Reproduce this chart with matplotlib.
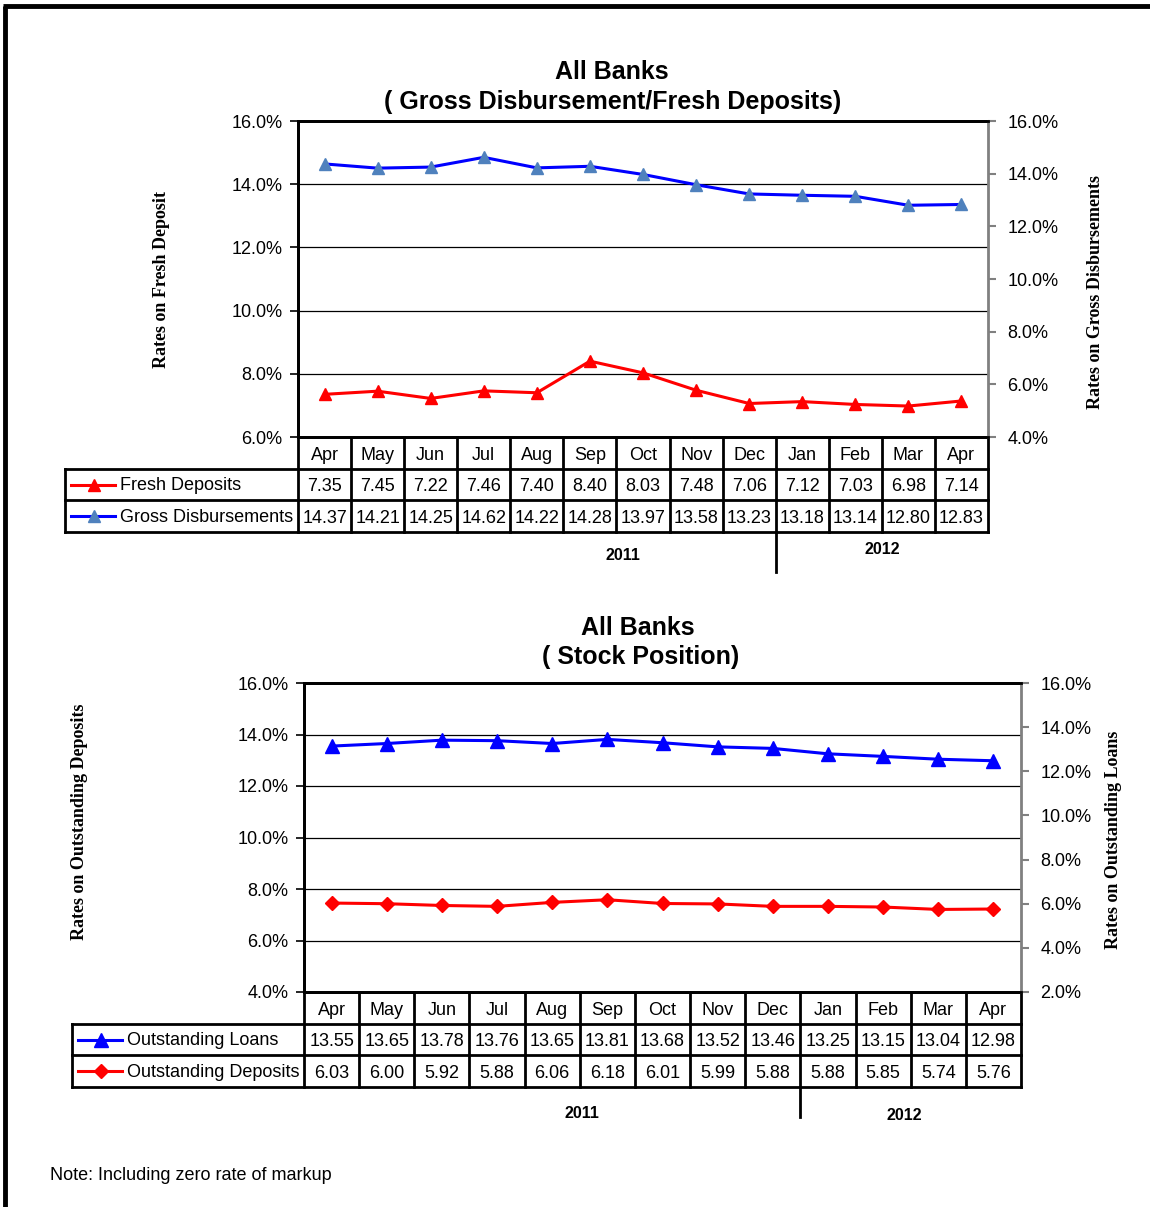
import matplotlib.pyplot as plt
from matplotlib.ticker import FuncFormatter

W, H = 1150, 1207

months = ["Apr", "May", "Jun", "Jul", "Aug", "Sep", "Oct", "Nov", "Dec", "Jan", "Feb", "Mar", "Apr"]
fresh_deposits = [7.35, 7.45, 7.22, 7.46, 7.40, 8.40, 8.03, 7.48, 7.06, 7.12, 7.03, 6.98, 7.14]
gross_disb = [14.37, 14.21, 14.25, 14.62, 14.22, 14.28, 13.97, 13.58, 13.23, 13.18, 13.14, 12.80, 12.83]
out_loans = [13.55, 13.65, 13.78, 13.76, 13.65, 13.81, 13.68, 13.52, 13.46, 13.25, 13.15, 13.04, 12.98]
out_deposits = [6.03, 6.00, 5.92, 5.88, 6.06, 6.18, 6.01, 5.99, 5.88, 5.88, 5.85, 5.74, 5.76]

plt.rcParams["font.family"] = ["Liberation Sans", "DejaVu Sans"]

fig = plt.figure(figsize=(W / 100, H / 100), dpi=100)
pct = FuncFormatter(lambda v, p: f"{v:.1f}%")
serif = ["Liberation Serif", "DejaVu Serif"]
FS = 13

# overlay in pixel coords for tables, frame and texts
ov = fig.add_axes([0, 0, 1, 1], zorder=-1)
ov.set_xlim(0, W)
ov.set_ylim(H, 0)
ov.axis("off")
ov.plot([3, W], [6, 6], color="black", lw=3.5, solid_capstyle="butt")
ov.plot([4.5, 4.5], [6, H], color="black", lw=3.5, solid_capstyle="butt")


def panel(x0, x1, y0, y1, left_s, right_s, llim, rlim, lticks, rticks, lc, rc):
    ax = fig.add_axes([x0 / W, 1 - y1 / H, (x1 - x0) / W, (y1 - y0) / H])
    ax2 = ax.twinx()
    x = list(range(len(months)))
    ax.plot(x, left_s[0], color=lc[0], lw=2.2, marker=lc[1], ms=lc[2], mfc=lc[3], mec=lc[3], zorder=5)
    ax2.plot(x, right_s[0], color=rc[0], lw=2.2, marker=rc[1], ms=rc[2], mfc=rc[3], mec=rc[3], zorder=5)
    ax.set_xlim(-0.5, len(months) - 0.5)
    ax.set_ylim(*llim)
    ax2.set_ylim(*rlim)
    ax.set_yticks(lticks)
    ax2.set_yticks(rticks)
    ax.yaxis.set_major_formatter(pct)
    ax2.yaxis.set_major_formatter(pct)
    ax.set_xticks([])
    for t in lticks[1:-1]:
        ax.axhline(t, color="black", lw=0.9, zorder=1)
    ax.tick_params(axis="y", direction="out", length=6, width=1.2, labelsize=FS, pad=5, colors="black")
    ax2.tick_params(axis="y", direction="out", length=6, width=1.5, color="#808080", labelsize=FS, pad=8,
                    labelcolor="black")
    for s in ["left", "top", "bottom"]:
        ax.spines[s].set_linewidth(2)
        ax2.spines[s].set_linewidth(2)
    ax.spines["right"].set_visible(False)
    ax2.spines["right"].set_color("#808080")
    ax2.spines["right"].set_linewidth(2)
    return ax, ax2


def table(x0, x1, y_top, row_h, lab_x0, rows, div_y, y2011, y2012):
    n = len(months)
    cw = (x1 - x0) / n
    y_h1 = y_top + row_h
    y_end = y_top + row_h * 3
    lw = 2
    # header box
    ov.plot([x0, x0], [y_top, y_end], color="black", lw=lw)
    ov.plot([x1, x1], [y_top, y_end], color="black", lw=lw)
    for i in range(1, n):
        ov.plot([x0 + i * cw] * 2, [y_top, y_end], color="black", lw=lw)
    ov.plot([lab_x0, x1], [y_h1, y_h1], color="black", lw=lw)
    ov.plot([lab_x0, x1], [y_h1 + row_h, y_h1 + row_h], color="black", lw=lw)
    ov.plot([lab_x0, x1], [y_end, y_end], color="black", lw=lw)
    ov.plot([lab_x0, lab_x0], [y_h1, y_end], color="black", lw=lw)
    for i, m in enumerate(months):
        ov.text(x0 + (i + 0.5) * cw, y_top + row_h / 2 + 2.5, m, ha="center", va="center", fontsize=FS)
    for r, (name, vals, color, marker, ms, mcol) in enumerate(rows):
        yc = y_h1 + row_h * (r + 0.5)
        ov.plot([lab_x0 + 6, lab_x0 + 50], [yc, yc], color=color, lw=2.2)
        ov.plot([lab_x0 + 29], [yc], marker=marker, ms=ms, color=mcol)
        ov.text(lab_x0 + 55, yc + 1, name, ha="left", va="center", fontsize=FS)
        for i, v in enumerate(vals):
            ov.text(x0 + (i + 0.5) * cw, yc + 2, f"{v:.2f}", ha="center", va="center", fontsize=FS)
    xd = x0 + 9 * cw
    ov.plot([xd, xd], [y_end, div_y], color="black", lw=2)
    ov.text(y2011[0], y2011[1], "2011", ha="center", va="center", fontsize=11.5, fontweight="bold")
    ov.text(y2012[0], y2012[1], "2012", ha="center", va="center", fontsize=11.5, fontweight="bold")


# ---- top panel
ax, ax2 = panel(298, 988, 121, 437, [fresh_deposits], [gross_disb], (6, 16), (4, 16),
                [6, 8, 10, 12, 14, 16], [4, 6, 8, 10, 12, 14, 16],
                ("red", "^", 9, "red"), ("blue", "^", 9, "#4F81BD"))
ov.text(612, 72, "All Banks", ha="center", va="center", fontsize=18, fontweight="bold")
ov.text(613, 102, "( Gross Disbursement/Fresh Deposits)", ha="center", va="center", fontsize=18, fontweight="bold")
ov.text(161, 280, "Rates on Fresh Deposit", rotation=90, ha="center", va="center", fontsize=13,
        fontweight="bold", family=serif)
ov.text(1095, 292, "Rates on Gross Disbursements", rotation=90, ha="center", va="center", fontsize=13,
        fontweight="bold", family=serif)
table(298, 988, 437, 31.7, 65,
      [("Fresh Deposits", fresh_deposits, "red", "^", 9, "red"),
       ("Gross Disbursements", gross_disb, "blue", "^", 9, "#4F81BD")],
      572, (623, 556), (882, 549))

# ---- bottom panel
bx, bx2 = panel(304, 1021, 683, 992, [out_loans], [out_deposits], (4, 16), (2, 16),
                [4, 6, 8, 10, 12, 14, 16], [2, 4, 6, 8, 10, 12, 14, 16],
                ("blue", "^", 10, "blue"), ("red", "D", 7, "red"))
ov.text(638, 628, "All Banks", ha="center", va="center", fontsize=18, fontweight="bold")
ov.text(641, 657, "( Stock Position)", ha="center", va="center", fontsize=18, fontweight="bold")
ov.text(79, 822, "Rates on Outstanding Deposits", rotation=90, ha="center", va="center", fontsize=13,
        fontweight="bold", family=serif)
ov.text(1113, 840, "Rates on Outstanding Loans", rotation=90, ha="center", va="center", fontsize=13,
        fontweight="bold", family=serif)
table(304, 1021, 992, 31.7, 72,
      [("Outstanding Loans", out_loans, "blue", "^", 10, "blue"),
       ("Outstanding Deposits", out_deposits, "red", "D", 7, "red")],
      1117, (582, 1113), (904, 1115))

ov.text(50, 1175, "Note: Including zero rate of markup", ha="left", va="center", fontsize=13)

plt.savefig("out.png", dpi=100)
